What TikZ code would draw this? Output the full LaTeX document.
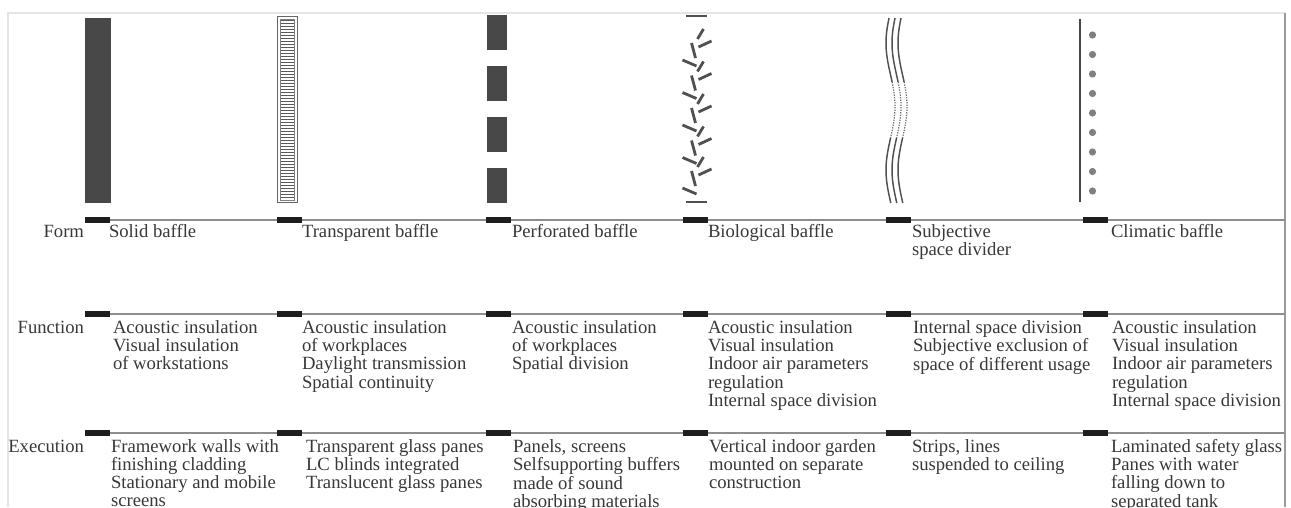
\documentclass[tikz,border=0pt]{standalone}
\usepackage{fontspec}
\setmainfont{Liberation Serif}
\definecolor{txt}{HTML}{383838}
\definecolor{rulec}{HTML}{8E8E8E}
\definecolor{barc}{HTML}{1E1E1E}
\definecolor{solidc}{HTML}{484848}
\definecolor{leafc}{HTML}{505050}
\definecolor{dotc}{HTML}{808080}
\definecolor{framec}{HTML}{9A9A9A}
\newcommand\cellt[1]{\begin{tabular}[t]{@{}l@{}}#1\end{tabular}}
\newcommand\wavex[2]{{890.5+#1-4.5*cos(2.8346*(#2-43))}}
\begin{document}
\begin{tikzpicture}[x=0.75pt,y=-0.75pt,
  every node/.style={inner sep=0pt,outer sep=0pt,text=txt,font=\fontsize{14}{13.5}\selectfont},
  cell/.style={anchor=base west},
  rowlabel/.style={anchor=base east},
  rowline/.style={draw=rulec,line width=1.2pt},
  tabbar/.style={fill=barc},
  solidpart/.style={fill=solidc},
  leafst/.style={draw=leafc,line width=2.1pt},
  wave/.style={draw=leafc,line width=1.1pt,line join=round},
  wavedot/.style={draw=leafc!80,line width=0.9pt,dash pattern=on 1pt off 0.9pt},
  frameline/.style={draw=framec,line width=1.5pt},
  faint/.style={draw=black!10,line width=0.8pt}]
\useasboundingbox (0,0) rectangle (1291,507);
\renewcommand\arraystretch{1}
% frame
\coordinate (tl) at (8,13);
\coordinate (tr) at (1285,13);
\coordinate (bl) at (8,507);
\coordinate (br) at (1285,507);
\draw[faint] (bl) -- (tl) -- (tr);
\draw[frameline] (tr) -- (br);
% row lines
\foreach \n/\yy in {form/220,func/314,exec/433}{
  \coordinate (\n L) at (85,\yy);
  \coordinate (\n R) at (1285,\yy);
  \draw[rowline] (\n L) -- (\n R);
}
% bars
\foreach \yy in {220,314,433}{
  \foreach \xx in {85,277,486,683,886,1083}{
    \fill[tabbar] (\xx,{\yy-2.6}) rectangle ({\xx+25},{\yy+2.6});
  }
}
% row labels
\node[rowlabel] (lform) at (84,237) {Form};
\node[rowlabel] (lfunc) at (84,333) {Function};
\node[rowlabel] (lexec) at (84,452) {Execution};
% Form row
\node[cell] (f1) at (109,237) {Solid baffle};
\node[cell] (f2) at (302,237) {Transparent baffle};
\node[cell] (f3) at (512,237) {Perforated baffle};
\node[cell] (f4) at (708,237) {Biological baffle};
\node[cell] (f5) at (912,237) {\cellt{Subjective\\space divider}};
\node[cell] (f6) at (1111,237) {Climatic baffle};
% Function row
\node[cell] (u1) at (113,333) {\cellt{Acoustic insulation\\Visual insulation\\of workstations}};
\node[cell] (u2) at (302,333) {\cellt{Acoustic insulation\\of workplaces\\Daylight transmission\\Spatial continuity}};
\node[cell] (u3) at (512,333) {\cellt{Acoustic insulation\\of workplaces\\Spatial division}};
\node[cell] (u4) at (708,333) {\cellt{Acoustic insulation\\Visual insulation\\Indoor air parameters\\regulation\\Internal space division}};
\node[cell] (u5) at (913,333) {\cellt{Internal space division\\Subjective exclusion of\\space of different usage}};
\node[cell] (u6) at (1112,333) {\cellt{Acoustic insulation\\Visual insulation\\Indoor air parameters\\regulation\\Internal space division}};
% Execution row
\node[cell] (e1) at (111,452) {\cellt{Framework walls with\\finishing cladding\\Stationary and mobile\\screens}};
\node[cell] (e2) at (306,452) {\cellt{Transparent glass panes\\LC blinds integrated\\Translucent glass panes}};
\node[cell] (e3) at (513,452) {\cellt{Panels, screens\\Selfsupporting buffers\\made of sound\\absorbing materials}};
\node[cell] (e4) at (709,452) {\cellt{Vertical indoor garden\\mounted on separate\\construction}};
\node[cell] (e5) at (912,452) {\cellt{Strips, lines\\suspended to ceiling}};
\node[cell] (e6) at (1111,452) {\cellt{Laminated safety glass\\Panes with water\\falling down to\\separated tank}};
% 1 solid baffle
\fill[solidpart] (85,18) rectangle (110.5,202.5);
% 2 transparent baffle
\draw[draw=black!60,line width=1pt] (277.5,16.5) rectangle (297.5,202.5);
\draw[draw=black!50,line width=0.6pt] (280.3,19) rectangle (294.7,200);
\foreach \k in {0,...,59}{
  \draw[draw=black!65,line width=0.8pt] (281,{20.5+3*\k}) -- (294,{20.5+3*\k});
}
% 3 perforated baffle
\foreach \yy in {15,66,117,168}{
  \fill[solidpart] (486.5,\yy) rectangle (507,{\yy+35});
}
% 4 biological baffle
\draw[leafst] (686,16) -- (707,16);
\draw[leafst] (686,202) -- (707,202);
\foreach \yy in {29,61.5,94,126.5,157}{
  \draw[leafst] (703.5,\yy) -- (697.5,{\yy+10});
  \draw[leafst] (711.5,{\yy+12}) -- (698.5,{\yy+18});
  \draw[leafst] (691.5,{\yy+14}) -- (695.5,{\yy+29});
  \draw[leafst] (682.5,{\yy+31}) -- (696.5,{\yy+37});
}
% 5 subjective space divider
\foreach \o in {0,6,12}{
  \draw[wave] (\wavex{\o}{18},18) \foreach \t in {20,22,...,82}{ -- (\wavex{\o}{\t},\t)};
  \draw[wavedot] (\wavex{\o}{82},82) \foreach \t in {84,86,...,138}{ -- (\wavex{\o}{\t},\t)};
  \draw[wave] (\wavex{\o}{138},138) \foreach \t in {140,142,...,202}{ -- (\wavex{\o}{\t},\t)} -- (\wavex{\o}{203},203);
}
% 6 climatic baffle
\draw[draw=solidc,line width=1.5pt] (1080,19) -- (1080,202);
\foreach \k in {0,...,8}{
  \fill[dotc] (1092.5,{35+19.5*\k}) circle (3.6);
}
\end{tikzpicture}
\end{document}
